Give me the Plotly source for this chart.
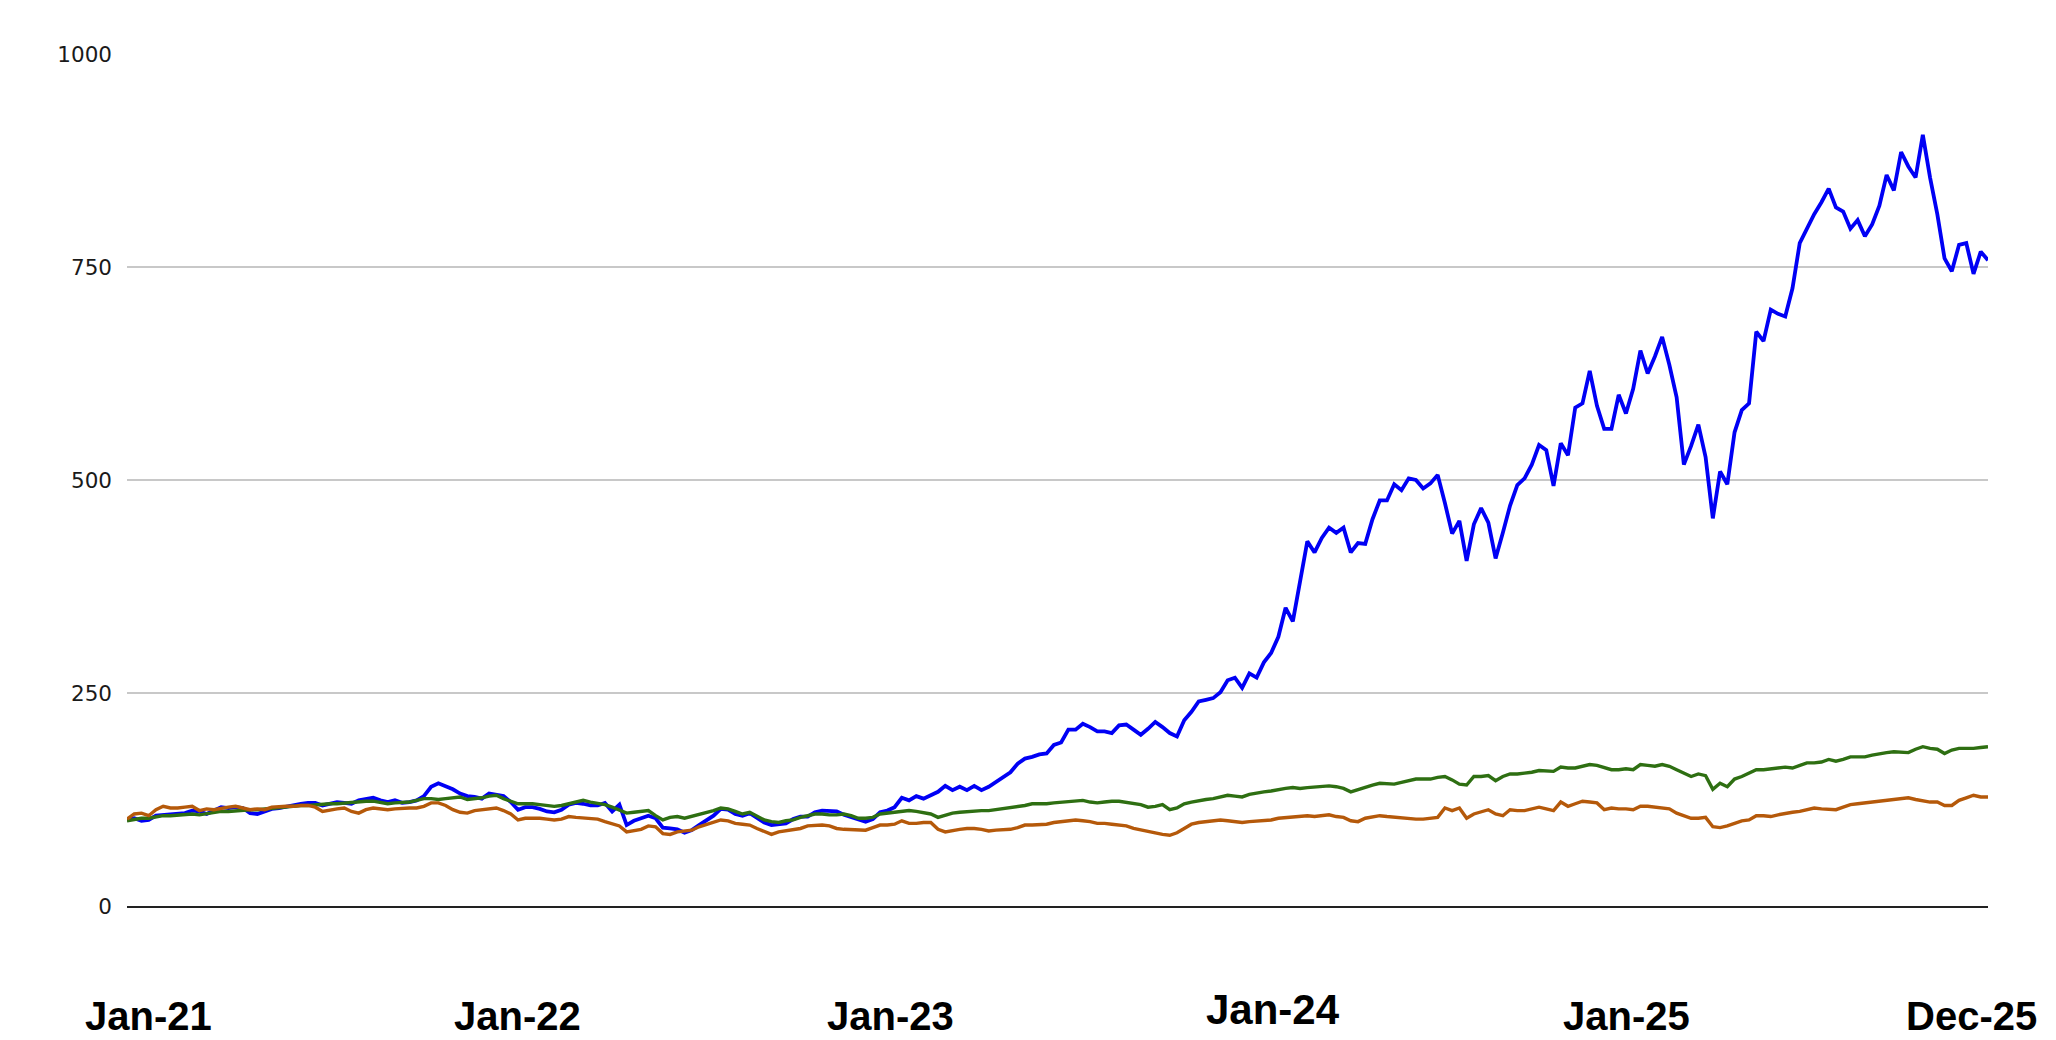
import pandas as pd
import plotly.graph_objects as go

# Weekly observations (index, start = 100)
start_date = "2021-01-08"
n_weeks = 258

blue_values = [
    101,103,100,101,106,107,108,109,109,112,
    111,108,112,116,115,116,115,109,108,111,
    114,115,117,118,120,121,121,118,120,122,
    121,120,124,126,127,124,122,124,121,122,
    124,129,140,144,141,137,132,129,128,126,
    132,131,129,122,113,116,116,114,111,110,
    113,119,121,120,118,118,121,111,119,95,
    100,103,106,103,92,91,90,86,89,95,
    100,106,114,113,108,106,109,104,98,95,
    96,97,102,105,105,110,112,111,111,107,
    104,102,99,102,110,112,116,127,124,129,
    126,130,134,141,136,140,136,141,136,140,
    146,152,157,167,173,175,178,179,189,192,
    207,207,214,210,205,205,203,212,213,207,
    201,208,216,210,203,199,218,228,240,242,
    244,251,265,268,256,273,268,286,297,316,
    350,334,380,428,415,432,444,438,444,415,
    426,425,454,476,476,495,488,502,500,490,
    496,506,473,437,452,405,448,467,450,408,
    438,470,494,502,518,541,535,493,543,529,
    585,590,628,587,560,560,600,578,607,652,
    625,645,668,635,597,518,540,565,527,455,
    510,495,556,582,590,674,663,700,695,692,
    725,778,795,812,826,842,820,815,795,805,
    786,800,822,858,840,885,868,855,905,855,
    812,760,745,776,778,742,768,758,
]

green_values = [
    100,102,103,103,105,106,106,107,107,108,
    107,108,110,111,111,112,113,113,113,114,
    115,115,116,117,118,118,119,119,120,120,
    121,121,122,123,123,121,120,121,122,122,
    124,126,126,125,126,127,128,125,126,127,
    129,130,126,123,120,120,120,119,118,117,
    118,120,122,124,122,121,119,116,113,109,
    110,111,112,106,101,104,105,103,105,108,
    110,112,115,114,111,108,110,106,101,99,
    98,100,101,104,106,108,108,107,107,108,
    106,103,103,104,108,109,111,112,112,111,
    110,108,104,107,109,110,111,112,112,112,
    113,114,115,116,118,120,120,120,121,122,
    123,124,124,122,121,122,123,123,122,121,
    119,116,117,119,113,115,120,122,124,125,
    126,128,130,129,128,131,133,134,135,137,
    138,139,138,139,140,141,141,140,138,134,
    137,140,142,144,143,143,145,147,149,149,
    149,151,152,148,143,142,152,152,153,147,
    152,155,155,156,157,159,158,158,163,162,
    162,164,166,165,163,160,160,161,160,166,
    165,164,166,164,160,156,152,155,153,137,
    144,140,149,152,156,160,160,161,162,163,
    162,165,168,168,169,172,170,172,175,175,
    175,177,179,180,181,180,180,184,187,185,
    184,179,183,185,185,185,186,187,
]

orange_values = [
    102,108,109,106,113,117,115,115,116,117,
    112,114,113,115,116,117,115,113,114,113,
    116,117,117,117,118,118,116,111,113,114,
    115,111,109,113,115,114,113,114,115,115,
    115,117,121,121,118,113,110,109,112,113,
    114,115,112,108,101,103,103,103,102,101,
    102,105,104,103,102,102,99,97,94,87,
    88,90,94,93,85,84,87,88,89,93,
    96,98,101,100,97,96,95,91,87,84,
    87,88,89,91,94,95,95,94,91,90,
    90,89,89,92,95,95,96,100,97,97,
    98,98,90,87,89,90,91,91,90,88,
    89,89,90,92,95,95,95,96,98,99,
    100,101,100,99,97,97,96,95,94,91,
    89,87,86,84,83,86,91,96,98,99,
    100,101,100,99,98,99,100,101,101,103,
    104,105,105,106,105,106,107,105,104,100,
    99,103,105,106,105,104,104,103,102,102,
    103,104,115,112,115,103,108,111,113,108,
    106,113,112,112,114,116,114,112,122,117,
    120,123,122,121,113,115,114,114,113,117,
    117,116,115,114,109,106,103,103,104,93,
    92,94,97,100,101,106,106,105,107,109,
    110,111,113,115,114,113,113,116,119,120,
    121,122,123,124,124,125,127,125,123,122,
    122,118,118,124,127,130,128,128,
]

y_ticks = [0, 250, 500, 750, 1000]
x_labels = ["Jan-21", "Jan-22", "Jan-23", "Jan-24", "Jan-25", "Dec-25"]

dates = pd.date_range(start_date, periods=n_weeks, freq="7D")

fig = go.Figure()
fig.add_trace(go.Scatter(x=dates, y=blue_values, mode="lines",
                         line=dict(color="#0000f5", width=3.8), showlegend=False))
fig.add_trace(go.Scatter(x=dates, y=green_values, mode="lines",
                         line=dict(color="#2e6f12", width=3.4), showlegend=False))
fig.add_trace(go.Scatter(x=dates, y=orange_values, mode="lines",
                         line=dict(color="#b5590a", width=3.4), showlegend=False))

# bottom labels
label_pos = [0.0118, 0.210, 0.410, 0.616, 0.806, 0.991]
label_y = [-0.129, -0.129, -0.129, -0.122, -0.129, -0.129]
label_size = [40, 40, 40, 42, 40, 40]
for txt, px, py, sz in zip(x_labels, label_pos, label_y, label_size):
    fig.add_annotation(x=px, y=py, xref="paper", yref="paper", text="<b>%s</b>" % txt,
                       showarrow=False, xanchor="center", yanchor="middle",
                       font=dict(family="Liberation Sans, Arial", size=sz, color="#000"))

fig.update_layout(
    width=2048, height=1032,
    margin=dict(l=119, r=68, t=46, b=134),
    paper_bgcolor="white", plot_bgcolor="white",
    xaxis=dict(range=[dates[0], dates[-1]], showgrid=False, showticklabels=False,
               zeroline=False, showline=True, linecolor="#222", linewidth=1.5, ticks=""),
    yaxis=dict(range=[0, 1000], tickvals=y_ticks, showgrid=True, gridcolor="#c8c8c8",
               gridwidth=1.5, zeroline=False, ticks="", ticklabelstandoff=14,
               tickfont=dict(family="DejaVu Sans", size=21.5, color="#1a1a1a")),
)

fig.write_html("out.html")
